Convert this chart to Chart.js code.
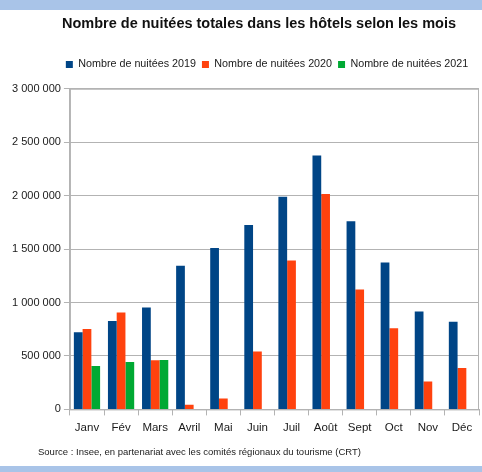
<!DOCTYPE html>
<html>
<head>
<meta charset="utf-8">
<script src="https://cdn.jsdelivr.net/npm/chart.js@4"></script>
<style>
  body { margin: 0; background: #fff; }
  #wrap {
    width: 482px; height: 456px;
    border-top: 10px solid #a9c4e8;
    border-bottom: 6px solid #a9c4e8;
  }
</style>
</head>
<body>
<div id="wrap"><canvas id="graphCanvas" width="482" height="456"></canvas></div>
<script>
const mois = ['Janv', 'Fév', 'Mars', 'Avril', 'Mai', 'Juin', 'Juil', 'Août', 'Sept', 'Oct', 'Nov', 'Déc'];
const nuitees2019 = [722000, 828000, 953000, 1343000, 1509000, 1725000, 1990000, 2375000, 1760000, 1375000, 916000, 819000];
const nuitees2020 = [753000, 906000, 459000, 44000, 103000, 541000, 1394000, 2016000, 1122000, 759000, 260000, 387000];
const nuitees2021 = [406000, 444000, 462000, null, null, null, null, null, null, null, null, null];

const police = "'Liberation Sans', Arial, sans-serif";

// cadre gris autour de la zone du graphique
const cadre = {
  id: 'cadre',
  afterDatasetsDraw(chart) {
    const { ctx, chartArea: a } = chart;
    ctx.save();
    ctx.strokeStyle = '#b3b3b3';
    ctx.lineWidth = 1;
    ctx.strokeRect(a.left + 0.5, a.top + 0.5, a.right - a.left - 1, a.bottom - a.top);
    ctx.restore();
  }
};

// décale titre, légende et source comme dans l'original
function decaler(box, dx, dy) {
  box.left += dx; box.right += dx;
  box.top += dy; box.bottom += dy;
}
const placement = {
  id: 'placement',
  afterLayout(chart) {
    decaler(chart.titleBlock, 15, 0);
    decaler(chart.legend, 23, -9);
    chart.boxes.forEach(b => {
      if (b !== chart.titleBlock && b !== chart.legend && b.options && b.options.position === 'bottom' && b.options.text) {
        decaler(b, 29, 0);
      }
    });
  }
};

function formatNombre(v) {
  return String(v).replace(/\B(?=(\d{3})+(?!\d))/g, ' ');
}

const ctx = document.getElementById('graphCanvas').getContext('2d');
new Chart(ctx, {
  type: 'bar',
  data: {
    labels: mois,
    datasets: [
      { label: 'Nombre de nuitées 2019', data: nuitees2019, backgroundColor: '#004586' },
      { label: 'Nombre de nuitées 2020', data: nuitees2020, backgroundColor: '#ff420e' },
      { label: 'Nombre de nuitées 2021', data: nuitees2021, backgroundColor: '#00a933' }
    ]
  },
  options: {
    responsive: false,
    animation: false,
    layout: { padding: { left: 9, right: 3, top: 0, bottom: 8 } },
    datasets: { bar: { categoryPercentage: 0.77, barPercentage: 1 } },
    scales: {
      x: {
        grid: { drawOnChartArea: false, offset: true, tickLength: 6, color: '#b3b3b3' },
        border: { color: '#b3b3b3' },
        ticks: { color: '#1a1a1a', font: { family: police, size: 11.5 }, padding: 6, maxRotation: 0, minRotation: 0, autoSkip: false }
      },
      y: {
        min: 0,
        max: 3000000,
        grid: { color: '#b3b3b3', tickLength: 6 },
        border: { color: '#b3b3b3' },
        ticks: {
          stepSize: 500000,
          color: '#1a1a1a',
          padding: 3,
          font: { family: police, size: 11 },
          callback: v => formatNombre(v)
        }
      }
    },
    plugins: {
      title: {
        display: true,
        text: 'Nombre de nuitées totales dans les hôtels selon les mois',
        color: '#111',
        font: { family: police, size: 14.5, weight: 'bold' },
        padding: { top: 5, bottom: 29.6 }
      },
      legend: {
        labels: {
          color: '#1a1a1a',
          boxWidth: 7,
          boxHeight: 7,
          padding: 6,
          font: { family: police, size: 10.75 }
        }
      },
      subtitle: {
        display: true,
        position: 'bottom',
        align: 'start',
        text: 'Source : Insee, en partenariat avec les comités régionaux du tourisme (CRT)',
        color: '#1a1a1a',
        font: { family: police, size: 9.5 },
        padding: { top: 5.4, bottom: 0 }
      },
      tooltip: { enabled: false }
    }
  },
  plugins: [cadre, placement]
});
</script>
</body>
</html>
